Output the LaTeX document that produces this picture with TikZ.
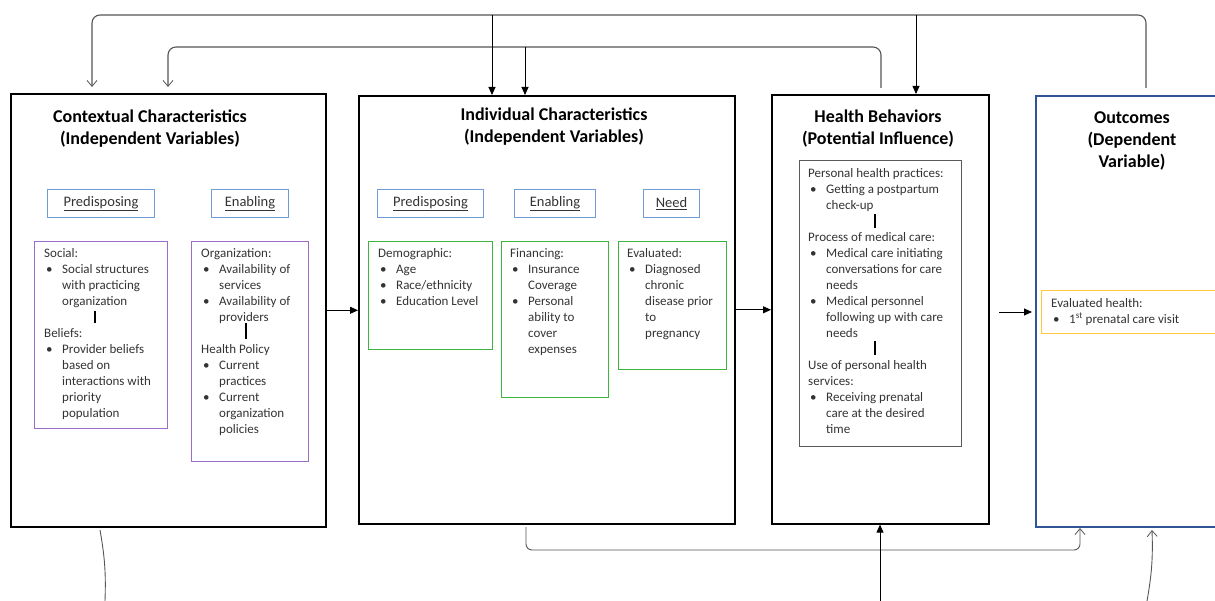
\documentclass[tikz,border=0pt]{standalone}
\usepackage{fontspec}
\setmainfont{Carlito}
\usetikzlibrary{arrows.meta}
\definecolor{txt}{HTML}{333333}
\definecolor{subblue}{HTML}{6F9CD8}
\definecolor{purp}{HTML}{9C6CCB}
\definecolor{grn}{HTML}{3DB43D}
\definecolor{boxgray}{HTML}{5A5A5A}
\definecolor{outblue}{HTML}{2F5597}
\definecolor{yel}{HTML}{FFC83D}
\definecolor{lnk}{HTML}{555555}
\newcommand\bl{\makebox[18pt][l]{\hspace{2pt}•}}
\newcommand\ct{\hspace*{18pt}}
\begin{document}
\begin{tikzpicture}[x=1pt,y=-1pt,
  bigbox/.style={draw=black, line width=1.6pt, anchor=north west, inner sep=0pt},
  subbox/.style={draw=subblue, line width=1pt, anchor=north west, inner sep=0pt,
    font=\fontsize{14.5}{17}\selectfont, text=txt},
  listbox/.style={line width=0.9pt, anchor=north west, inner sep=0pt},
  body/.style={anchor=north west, inner sep=0pt, align=left,
    font=\fontsize{13}{16}\selectfont, text=txt},
  title/.style={anchor=north, inner sep=0pt, align=center,
    font=\bfseries\fontsize{18}{22}\selectfont},
  bar/.style={line width=1.6pt, black},
  greyarr/.style={draw=lnk, line width=1.1pt, rounded corners=8pt,
    -{Straight Barb[length=6pt,width=10pt,line width=0.8pt]}},
  greyline/.style={draw=lnk, line width=0.9pt},
  blkarr/.style={draw=black, line width=0.9pt, -{Triangle[length=8pt,width=7pt]}}]
\useasboundingbox (0,0) rectangle (1215,601);
\clip (0,0) rectangle (1215,601);

% big boxes
\node[bigbox, minimum width=315pt, minimum height=433pt] (ctx) at (10,93) {};
\node[bigbox, minimum width=376pt, minimum height=428pt] (ind) at (358,95) {};
\node[bigbox, minimum width=217pt, minimum height=429pt] (hb) at (771,94) {};
\node[bigbox, draw=outblue, minimum width=220pt, minimum height=431pt] (out) at (1035,95) {};

% titles
\node[title] (ctxt) at (150,106.6) {\strut Contextual Characteristics\\(Independent Variables)};
\node[title] (indt) at (554,104.6) {\strut Individual Characteristics\\(Independent Variables)};
\node[title] (hbt) at (878,106.6) {\strut Health Behaviors\\(Potential Influence)};
\node[title] (outt) at (1132,107.6) {\strut Outcomes\\(Dependent\\Variable)};

% sub headers
\node[subbox, minimum width=107pt, minimum height=28pt] (ctxpre) at (47,189) {\underline{Predisposing}};
\node[subbox, minimum width=77pt, minimum height=28pt] (ctxen) at (211,189) {\underline{Enabling}};
\node[subbox, minimum width=106pt, minimum height=28pt] (indpre) at (377,189) {\underline{Predisposing}};
\node[subbox, minimum width=81pt, minimum height=28pt] (inden) at (514,189) {\underline{Enabling}};
\node[subbox, minimum width=56pt, minimum height=28pt] (need) at (643,189) {\underline{Need}};

% list boxes
\node[listbox, draw=purp, minimum width=133pt, minimum height=187pt] (social) at (34,241) {};
\node[listbox, draw=purp, minimum width=117pt, minimum height=220pt] (org) at (191,241) {};
\node[listbox, draw=grn, minimum width=124pt, minimum height=108pt] (demo) at (368,241) {};
\node[listbox, draw=grn, minimum width=107pt, minimum height=156pt] (fin) at (501,241) {};
\node[listbox, draw=grn, minimum width=108pt, minimum height=128pt] (eval) at (618,241) {};
\node[listbox, draw=boxgray, minimum width=162pt, minimum height=286pt] (hbin) at (799,160) {};
\node[listbox, draw=yel, line width=1pt, minimum width=220pt, minimum height=43pt] (yelbox) at (1041,290) {};

% list texts
\node[body] (socialt) at (44,245.8) {\strut Social:\\
\bl Social structures\\ \ct with practicing\\ \ct organization\\ \mbox{}\\
Beliefs:\\ \bl Provider beliefs\\ \ct based on\\ \ct interactions with\\ \ct priority\\ \ct population};
\node[body] (orgt) at (201,245.8) {\strut Organization:\\
\bl Availability of\\ \ct services\\ \bl Availability of\\ \ct providers\\ \mbox{}\\
Health Policy\\ \bl Current\\ \ct practices\\ \bl Current\\ \ct organization\\ \ct policies};
\node[body] (demot) at (378,245.8) {\strut Demographic:\\
\bl Age\\ \bl Race/ethnicity\\ \bl Education Level};
\node[body] (fint) at (510,245.8) {\strut Financing:\\
\bl Insurance\\ \ct Coverage\\ \bl Personal\\ \ct ability to\\ \ct cover\\ \ct expenses};
\node[body] (evalt) at (627,245.8) {\strut Evaluated:\\
\bl Diagnosed\\ \ct chronic\\ \ct disease prior\\ \ct to\\ \ct pregnancy};
\node[body] (hbint) at (808,165.8) {\strut Personal health practices:\\
\bl Getting a postpartum\\ \ct check-up\\ \mbox{}\\
Process of medical care:\\ \bl Medical care initiating\\ \ct conversations for care\\ \ct needs\\
\bl Medical personnel\\ \ct following up with care\\ \ct needs\\ \mbox{}\\
Use of personal health\\ services:\\ \bl Receiving prenatal\\ \ct care at the desired\\ \ct time};
\node[body] (yelt) at (1051,295.8) {\strut Evaluated health:\\
\bl 1\textsuperscript{st} prenatal care visit};

% short bars inside lists
\draw[bar] (95,311) -- (95,323);
\draw[bar] (246,323) -- (246,339);
\draw[bar] (875,214) -- (875,228);
\draw[bar] (875,341) -- (875,355);

% main flow arrows
\draw[blkarr] (ctx.east) -- (ctx.east -| ind.west);
\draw[blkarr] (ind.east) -- (ind.east -| hb.west);
\coordinate (f3s) at (999,312);
\coordinate (f3e) at (1032,312);
\draw[blkarr] (f3s) -- (f3e);

% top feedback lines
\coordinate (top1) at (0,15);
\coordinate (top2) at (0,47);
\coordinate (t1s) at (1146,88);
\coordinate (t1e) at (92,87);
\coordinate (t2s) at (881,88);
\coordinate (t2e) at (168,87);
\draw[greyarr] (t1s) -- (t1s |- top1) -- (t1e |- top1) -- (t1e);
\draw[greyarr] (t2s) -- (t2s |- top2) -- (t2e |- top2) -- (t2e);
\coordinate (a1) at (492,15);
\coordinate (a2) at (525,47);
\coordinate (a3) at (916,15);
\draw[blkarr] (a1) -- (a1 |- ind.north);
\draw[blkarr] (a2) -- (a2 |- ind.north);
\draw[blkarr] (a3) -- (a3 |- hb.north);

% bottom lines
\coordinate (bot) at (0,550);
\coordinate (b1s) at (526,527);
\coordinate (b1e) at (1080,528);
\draw[greyarr, line width=0.9pt, rounded corners=6pt] (b1s) -- (b1s |- bot) -- (b1e |- bot) -- (b1e);
\coordinate (b2s) at (880,601);
\draw[blkarr] (b2s) -- (b2s |- hb.south);
\coordinate (b3s) at (1147,601);
\coordinate (b3e) at (1152,530);
\draw[greyarr, line width=0.9pt] (b3s) to[bend right=6] (b3e);
\coordinate (b4s) at (100,530);
\coordinate (b4e) at (105,601);
\draw[greyline] (b4s) to[bend left=6] (b4e);
\end{tikzpicture}
\end{document}
